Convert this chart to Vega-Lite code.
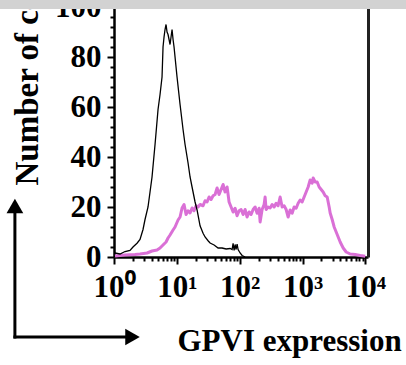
{
  "$schema": "https://vega.github.io/schema/vega-lite/v6.json",
  "width": 254,
  "height": 257,
  "autosize": {"type": "none"},
  "padding": {"left": 114, "top": 0, "right": 38, "bottom": 108},
  "background": "white",
  "config": {"view": {"stroke": null}},
  "datasets": {
    "black": [
      {"x": 1.037, "y": 1.6}, {"x": 1.246, "y": 1.2}, {"x": 1.497, "y": 2.2}, {"x": 1.798, "y": 2.6},
      {"x": 2.007, "y": 4}, {"x": 2.324, "y": 5.5}, {"x": 2.594, "y": 7}, {"x": 2.896, "y": 11},
      {"x": 3.116, "y": 15}, {"x": 3.478, "y": 20}, {"x": 3.743, "y": 26}, {"x": 4.028, "y": 32},
      {"x": 4.497, "y": 45}, {"x": 5.019, "y": 59}, {"x": 5.402, "y": 65}, {"x": 5.811, "y": 72},
      {"x": 6.028, "y": 84}, {"x": 6.254, "y": 88}, {"x": 6.487, "y": 91}, {"x": 6.73, "y": 93},
      {"x": 6.982, "y": 90}, {"x": 7.243, "y": 89}, {"x": 7.514, "y": 87}, {"x": 7.795, "y": 85},
      {"x": 8.087, "y": 88}, {"x": 8.389, "y": 91}, {"x": 8.703, "y": 87}, {"x": 9.025, "y": 84},
      {"x": 10.07, "y": 72}, {"x": 11.25, "y": 61}, {"x": 12.55, "y": 51}, {"x": 13.51, "y": 45},
      {"x": 15.08, "y": 37.6}, {"x": 16.23, "y": 32}, {"x": 17.46, "y": 28}, {"x": 19.49, "y": 22},
      {"x": 20.97, "y": 18.8}, {"x": 23.41, "y": 12.5}, {"x": 26.14, "y": 9.5}, {"x": 28.12, "y": 8},
      {"x": 31.39, "y": 6.5}, {"x": 33.78, "y": 5.6}, {"x": 39.13, "y": 4.8}, {"x": 45.31, "y": 3.6},
      {"x": 52.45, "y": 3.6}, {"x": 60.73, "y": 3.2}, {"x": 70.33, "y": 3.4}, {"x": 75.68, "y": 3},
      {"x": 78.51, "y": 5.5}, {"x": 81.44, "y": 2.6}, {"x": 84.53, "y": 5}, {"x": 87.64, "y": 3},
      {"x": 90.92, "y": 5.2}, {"x": 94.3, "y": 3}, {"x": 101.5, "y": 1.6}, {"x": 109.2, "y": 0.6},
      {"x": 121.9, "y": 0}
    ],
    "magenta": [
      {"x": 1.037, "y": 0.4}, {"x": 1.497, "y": 0.8}, {"x": 2.16, "y": 1}, {"x": 2.594, "y": 1.2},
      {"x": 3.354, "y": 1.6}, {"x": 4.028, "y": 2.4}, {"x": 4.838, "y": 2.8}, {"x": 5.402, "y": 3.6},
      {"x": 6.028, "y": 4.8}, {"x": 6.73, "y": 6}, {"x": 7.243, "y": 7.6}, {"x": 7.795, "y": 8.8},
      {"x": 8.703, "y": 10.8}, {"x": 9.361, "y": 12}, {"x": 10.45, "y": 14.8}, {"x": 11.25, "y": 16},
      {"x": 12.1, "y": 19.6}, {"x": 13.02, "y": 21}, {"x": 14.01, "y": 17}, {"x": 15.08, "y": 18.5},
      {"x": 16.23, "y": 17.6}, {"x": 17.46, "y": 19.6}, {"x": 18.79, "y": 18.5}, {"x": 20.22, "y": 20.5},
      {"x": 21.76, "y": 20}, {"x": 23.41, "y": 21}, {"x": 26.14, "y": 20.5}, {"x": 28.12, "y": 22.5},
      {"x": 30.26, "y": 22}, {"x": 32.56, "y": 24}, {"x": 35.04, "y": 23}, {"x": 37.71, "y": 24.5},
      {"x": 40.58, "y": 25}, {"x": 43.67, "y": 27.6}, {"x": 46.99, "y": 25}, {"x": 50.56, "y": 27},
      {"x": 54.42, "y": 29}, {"x": 58.56, "y": 26}, {"x": 63.02, "y": 28}, {"x": 67.8, "y": 22},
      {"x": 72.98, "y": 20}, {"x": 78.51, "y": 18}, {"x": 84.53, "y": 19.5}, {"x": 90.92, "y": 16.5},
      {"x": 97.82, "y": 18.5}, {"x": 105.3, "y": 19}, {"x": 113.3, "y": 17}, {"x": 121.9, "y": 19},
      {"x": 131.2, "y": 16}, {"x": 141.1, "y": 18}, {"x": 151.9, "y": 17}, {"x": 163.5, "y": 19},
      {"x": 175.9, "y": 20}, {"x": 189.3, "y": 17.5}, {"x": 203.7, "y": 19.5}, {"x": 211.3, "y": 14},
      {"x": 227.3, "y": 19}, {"x": 244.6, "y": 21}, {"x": 253.8, "y": 24}, {"x": 263.3, "y": 19},
      {"x": 283.4, "y": 20}, {"x": 304.9, "y": 19.6}, {"x": 328.1, "y": 21}, {"x": 353.0, "y": 20},
      {"x": 379.8, "y": 21.5}, {"x": 408.7, "y": 20.5}, {"x": 439.9, "y": 24}, {"x": 473.3, "y": 20},
      {"x": 509.3, "y": 20.5}, {"x": 548.1, "y": 19}, {"x": 589.9, "y": 16}, {"x": 634.7, "y": 18.8},
      {"x": 683.1, "y": 17.5}, {"x": 734.8, "y": 20}, {"x": 790.9, "y": 19.5}, {"x": 851.1, "y": 21.5},
      {"x": 915.9, "y": 22.8}, {"x": 985.4, "y": 22}, {"x": 1060, "y": 24}, {"x": 1141, "y": 26},
      {"x": 1228, "y": 28}, {"x": 1321, "y": 30.8}, {"x": 1422, "y": 29.5}, {"x": 1475, "y": 31.6},
      {"x": 1587, "y": 30}, {"x": 1708, "y": 30}, {"x": 1838, "y": 28}, {"x": 1978, "y": 27},
      {"x": 2128, "y": 26}, {"x": 2290, "y": 24.5}, {"x": 2465, "y": 24}, {"x": 2652, "y": 20},
      {"x": 2751, "y": 17.6}, {"x": 2960, "y": 15}, {"x": 3185, "y": 12}, {"x": 3428, "y": 10},
      {"x": 3689, "y": 8}, {"x": 3970, "y": 6}, {"x": 4432, "y": 3.6}, {"x": 4946, "y": 2},
      {"x": 5728, "y": 1.2}, {"x": 6881, "y": 1}, {"x": 8264, "y": 0.6}, {"x": 9927, "y": 0.3}
    ],
    "band": [{"x": 0.01, "x2": 100000, "y": 99.2, "y2": 110}],
    "arrows": [
      {"x": 0.0265, "x2": 0.0265, "y": -32, "y2": 19.6},
      {"x": 0.0265, "x2": 1.97, "y": -32, "y2": -32}
    ],
    "heads": [
      {"x": 0.0265, "y": 20.4, "dir": "up"},
      {"x": 1.97, "y": -32, "dir": "right"}
    ]
  },
  "resolve": {"axis": {"y": "independent"}},
  "encoding": {
    "x": {
      "field": "x", "type": "quantitative",
      "scale": {"type": "log", "domain": [1, 11000], "nice": false},
      "axis": {
        "orient": "bottom",
        "values": [1,2,3,4,5,6,7,8,9,10,20,30,40,50,60,70,80,90,100,200,300,400,500,600,700,800,900,1000,2000,3000,4000,5000,6000,7000,8000,9000,10000],
        "labelExpr": "datum.value == 1 ? '10⁰' : datum.value == 10 ? '10¹' : datum.value == 100 ? '10²' : datum.value == 1000 ? '10³' : datum.value == 10000 ? '10⁴' : ''",
        "labelFont": "Liberation Serif", "labelFontWeight": "bold", "labelFontSize": 31, "labelColor": "black",
        "labelFlush": false, "labelOverlap": false, "labelBound": false, "labelPadding": 8,
        "tickSize": {"condition": {"test": "indexof([1,10,100,1000,10000], datum.value) >= 0", "value": 7}, "value": 4},
        "tickWidth": 2, "tickColor": "black",
        "domainColor": "black", "domainWidth": 2.5,
        "grid": false,
        "title": "GPVI expression",
        "titleFont": "Liberation Serif", "titleFontWeight": "bold", "titleFontSize": 31, "titleColor": "black",
        "titleX": 63, "titleY": 93, "titleAlign": "left", "titleAnchor": "start", "titleBaseline": "alphabetic"
      }
    }
  },
  "layer": [
    {
      "data": {"name": "magenta"},
      "mark": {"type": "line", "color": "#da70d6", "strokeWidth": 3, "strokeJoin": "round"},
      "encoding": {
        "y": {
          "field": "y", "type": "quantitative",
          "scale": {"domain": [0, 102.8], "nice": false},
          "axis": {
            "orient": "left",
            "values": [0,4,8,12,16,20,24,28,32,36,40,44,48,52,56,60,64,68,72,76,80,84,88,92,96,100],
            "labelExpr": "datum.value % 20 === 0 ? datum.label : ''",
            "labelFont": "Liberation Serif", "labelFontWeight": "bold", "labelFontSize": 31, "labelColor": "black",
            "labelFlush": false, "labelOverlap": false, "labelBound": false, "labelPadding": 6,
            "labelBaseline": "middle",
            "tickSize": {"condition": {"test": "datum.value % 20 === 0", "value": 7}, "value": 4},
            "tickWidth": 2, "tickColor": "black",
            "domainColor": "black", "domainWidth": 2.5,
            "grid": false,
            "title": "Number of cells",
            "titleFont": "Liberation Serif", "titleFontWeight": "bold", "titleFontSize": 33, "titleColor": "black",
            "titleAngle": -90, "titleX": -77, "titleY": 185, "titleAlign": "left", "titleAnchor": "start", "titleBaseline": "alphabetic"
          }
        }
      }
    },
    {
      "data": {"name": "black"},
      "mark": {"type": "line", "color": "black", "strokeWidth": 1.3},
      "encoding": {
        "y": {
          "field": "y", "type": "quantitative",
          "scale": {"domain": [0, 102.8], "nice": false},
          "axis": {"orient": "right", "labels": false, "ticks": false, "grid": false, "title": null, "domainColor": "#222222", "domainWidth": 3}
        }
      }
    },
    {
      "data": {"name": "arrows"},
      "mark": {"type": "rule", "color": "black", "strokeWidth": 3, "strokeCap": "square", "clip": false},
      "encoding": {
        "x2": {"field": "x2"},
        "y": {"field": "y", "type": "quantitative", "scale": {"domain": [0, 102.8], "nice": false}, "axis": null},
        "y2": {"field": "y2"}
      }
    },
    {
      "data": {"name": "heads"},
      "mark": {"type": "point", "filled": true, "color": "black", "opacity": 1, "size": 280, "clip": false},
      "encoding": {
        "y": {"field": "y", "type": "quantitative", "scale": {"domain": [0, 102.8], "nice": false}, "axis": null},
        "shape": {"field": "dir", "type": "nominal", "scale": {"domain": ["up", "right"], "range": ["triangle-up", "triangle-right"]}, "legend": null}
      }
    },
    {
      "data": {"name": "band"},
      "mark": {"type": "rect", "color": "#d2d2d2", "clip": false},
      "encoding": {
        "x2": {"field": "x2"},
        "y": {"field": "y", "type": "quantitative", "scale": {"domain": [0, 102.8], "nice": false}, "axis": null},
        "y2": {"field": "y2"}
      }
    }
  ]
}
